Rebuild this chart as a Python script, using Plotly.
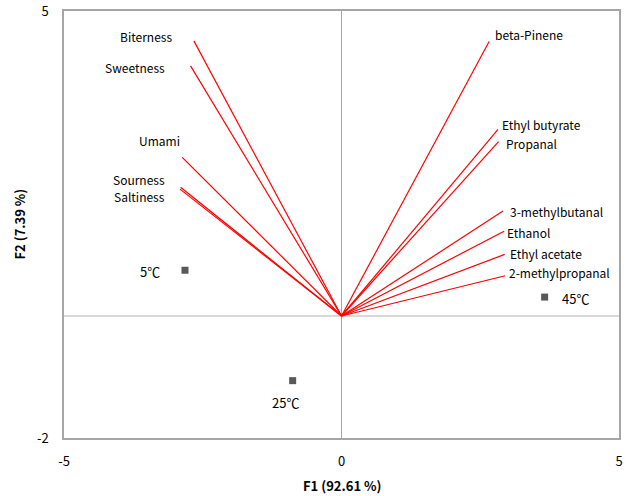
import plotly.graph_objects as go

# ---- data ----
var_names = ["Biterness", "Sweetness", "Umami", "Sourness", "Saltiness",
             "beta-Pinene", "Ethyl butyrate", "Propanal", "3-methylbutanal",
             "Ethanol", "Ethyl acetate", "2-methylpropanal"]
var_f1 = [-2.66, -2.72, -2.87, -2.90, -2.91,
          2.66, 2.82, 2.83, 2.91, 2.93, 2.94, 2.95]
var_f2 = [4.51, 4.10, 2.60, 2.11, 2.08,
          4.50, 3.06, 2.86, 1.72, 1.39, 1.01, 0.66]

obs_names = ["5℃", "25℃", "45℃"]
obs_f1 = [-2.82, -0.88, 3.66]
obs_f2 = [0.75, -1.06, 0.31]

x_ticks = [-5, 0, 5]
y_ticks = [-2, 5]

# ---- label offsets (pixels: dx right, dy down) ----
var_offsets = [(-48, -4), (-56, 2), (-23, -17), (-42, -8), (-41, 7),
               (40, -7), (43, -5), (33, 2), (53, 0), (24, 1), (41, -1), (54, -3)]
obs_offsets = [(-35, 1), (-7, 22), (31, 1)]

FONT = "Noto Sans CJK KR, Malgun Gothic, sans-serif"

fig = go.Figure()

for name, vx, vy in zip(var_names, var_f1, var_f2):
    fig.add_trace(go.Scatter(x=[0, vx], y=[0, vy], mode="lines",
                             line=dict(color="#FF0000", width=1.2),
                             hoverinfo="skip", showlegend=False, name=name))

fig.add_trace(go.Scatter(x=obs_f1, y=obs_f2, mode="markers",
                         marker=dict(symbol="square", size=7, color="#595959"),
                         showlegend=False, text=obs_names))

annotations = []
for name, vx, vy, (dx, dy) in zip(var_names, var_f1, var_f2, var_offsets):
    annotations.append(dict(x=vx, y=vy, xref="x", yref="y", text=name,
                            showarrow=False, xshift=dx, yshift=-dy,
                            xanchor="center", yanchor="middle",
                            font=dict(family=FONT, size=12, color="#000000")))
for name, ox, oy, (dx, dy) in zip(obs_names, obs_f1, obs_f2, obs_offsets):
    annotations.append(dict(x=ox, y=oy, xref="x", yref="y", text=name,
                            showarrow=False, xshift=dx, yshift=-dy,
                            xanchor="center", yanchor="middle",
                            font=dict(family=FONT, size=13, color="#000000")))

annotations.append(dict(x=0.5, y=0, xref="paper", yref="paper",
                        text="<b>F1 (92.61 %)</b>", showarrow=False,
                        yshift=-47, xanchor="center", yanchor="middle",
                        font=dict(family=FONT, size=13, color="#000000")))
annotations.append(dict(x=0, y=0.5, xref="paper", yref="paper",
                        text="<b>F2 (7.39 %)</b>", showarrow=False, textangle=-90,
                        xshift=-45, xanchor="center", yanchor="middle",
                        font=dict(family=FONT, size=13, color="#000000")))

fig.update_layout(
    width=629, height=496,
    margin=dict(l=64, r=10, t=11, b=58, autoexpand=False),
    plot_bgcolor="white", paper_bgcolor="white",
    annotations=annotations,
    font=dict(family=FONT, size=13, color="#000000"),
    xaxis=dict(range=[-5, 5], tickvals=x_ticks, ticktext=[str(v) for v in x_ticks],
               showgrid=False, zeroline=True, zerolinecolor="#A6A6A6", zerolinewidth=1,
               showline=True, linecolor="#A6A6A6", linewidth=1.5, mirror=True,
               ticks="", ticklabelstandoff=11, automargin=False,
               ticklabeloverflow="allow",
               tickfont=dict(family=FONT, size=13, color="#000000")),
    yaxis=dict(range=[-2, 5], tickvals=y_ticks, ticktext=[str(v) for v in y_ticks],
               showgrid=False, zeroline=True, zerolinecolor="#D9D9D9", zerolinewidth=2,
               showline=True, linecolor="#A6A6A6", linewidth=1.5, mirror=True,
               ticks="", ticklabelstandoff=11, automargin=False,
               ticklabeloverflow="allow",
               tickfont=dict(family=FONT, size=13, color="#000000")),
)

# remove the browser's default 8px body margin so the figure fills the window
fig.write_html("out.html", config={"displayModeBar": False},
               post_script="document.body.style.margin='0px';")
